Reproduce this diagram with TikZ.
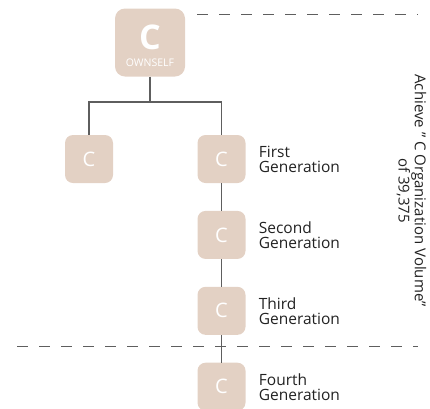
\documentclass[tikz,border=0pt]{standalone}
\usepackage{fontspec}
\setmainfont{Open Sans}
\usetikzlibrary{positioning}

\definecolor{boxfill}{HTML}{E3D1C4}
\definecolor{linegray}{HTML}{5E5E5E}
\definecolor{textdark}{HTML}{222222}

\tikzset{
  cbox/.style={fill=boxfill, rounded corners=8pt, minimum size=48pt, inner sep=0pt,
    text=white, font=\fontsize{20}{20}\selectfont},
  ownbox/.style={fill=boxfill, rounded corners=10pt, minimum width=70pt,
    minimum height=68pt, inner sep=0pt},
  genlabel/.style={align=left, text=textdark, inner sep=0pt,
    font=\fontsize{15.5}{15}\selectfont},
  link/.style={draw=linegray, line width=1.2pt},
  divider/.style={draw=linegray, line width=1.2pt, dash pattern=on 11pt off 11pt},
}

\begin{document}
\begin{tikzpicture}[x=1pt,y=-1pt]
  % Setup
  \useasboundingbox (0,0) rectangle (430,408);
  \def\gap{27.5pt}

  % Dividers
  \coordinate (topL) at (197,14.5);
  \coordinate (topR) at (418,14.5);
  \coordinate (botL) at (17,346.5);
  \coordinate (botR) at (418,346.5);
  \draw[divider] (topL) -- (topR);
  \draw[divider] (botL) -- (botR);

  % Own box
  \node[ownbox] (own) at (150,42.5) {};
  \node[text=white, font=\fontsize{34}{34}\selectfont\bfseries] (ownC) at (150,37) {C};
  \node[text=white, font=\fontsize{10.5}{10.5}\selectfont] (ownlbl) at (150,63) {OWNSELF};

  % Boxes below
  \node[cbox] (side) at (89,159) {C};
  \node[cbox] (gen1) at (221.5,159) {C};
  \node[cbox, below=\gap of gen1] (gen2) {C};
  \node[cbox, below=\gap of gen2] (gen3) {C};
  \node[cbox, below=\gap of gen3] (gen4) {C};

  % Tree lines
  \coordinate (fork) at (150,102);
  \draw[link] (own) -- (fork);
  \draw[link] (fork) -| (side);
  \draw[link] (fork) -| (gen1);
  \draw[link] (gen1) -- (gen2);
  \draw[link] (gen2) -- (gen3);
  \draw[link] (gen3) -- (gen4);

  % Generation labels
  \node[genlabel, right=13pt of gen1] (lbl1) {First\\Generation};
  \node[genlabel, right=13pt of gen2] (lbl2) {Second\\Generation};
  \node[genlabel, right=13pt of gen3] (lbl3) {Third\\Generation};
  \node[genlabel, right=13pt of gen4] (lbl4) {Fourth\\Generation};

  % Goal text
  \node[rotate=-90, align=center, text=textdark, inner sep=0pt,
    font=\fontsize{15}{12.5}\selectfont] (goal) at (411.5,190.5)
    {Achieve '' C Organization Volume''\\of 39,375};
\end{tikzpicture}
\end{document}
